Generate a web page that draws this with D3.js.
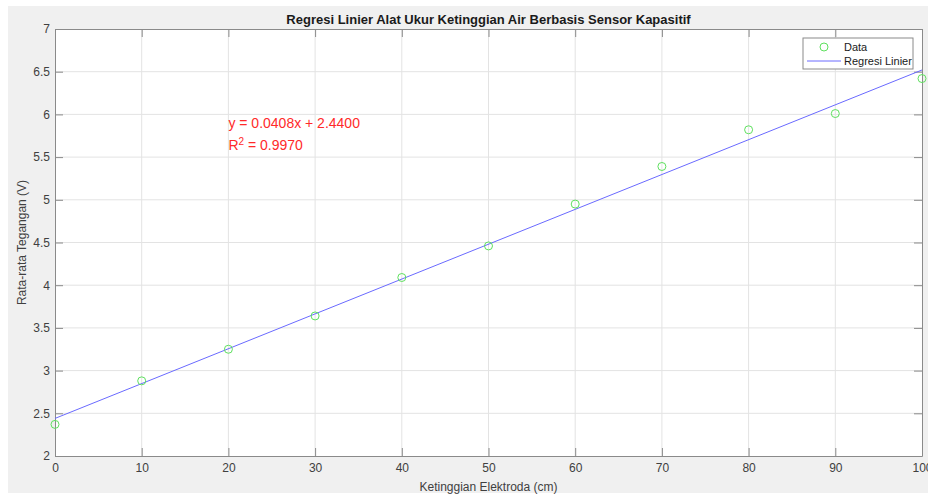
<!DOCTYPE html>
<html>
<head>
<meta charset="utf-8">
<script src="https://cdn.jsdelivr.net/npm/d3@7"></script>
<style>
  body { margin: 0; background: #fff; }
  text { font-family: "Liberation Sans", Arial, sans-serif; }
</style>
</head>
<body>
<div id="chart-area"></div>
<script>
// --- Data ---
var ketinggian = [0, 10, 20, 30, 40, 50, 60, 70, 80, 90, 100];
var tegangan = [2.37, 2.88, 3.25, 3.64, 4.09, 4.46, 4.95, 5.39, 5.82, 6.01, 6.42];
var xTicks = [0, 10, 20, 30, 40, 50, 60, 70, 80, 90, 100];
var yTicks = [2, 2.5, 3, 3.5, 4, 4.5, 5, 5.5, 6, 6.5, 7];
var slope = 0.0408;
var intercept = 2.44;
var rSquared = 0.9970;

// --- Setup the canvas ---
var W = 928, H = 494;
var margins = {top: 29, bottom: 38, left: 55, right: 6};
var width = W - margins.left - margins.right;
var height = H - margins.top - margins.bottom;

var svg = d3.select("#chart-area").append("svg")
    .attr("width", W)
    .attr("height", H);

// gray figure background
svg.append("rect")
    .attr("x", 8).attr("y", 6)
    .attr("width", W - 8).attr("height", H - 7)
    .attr("fill", "#f0f0f0");

var group = svg.append("g")
    .attr("transform", "translate(" + margins.left + ", " + margins.top + ")");

group.append("rect")
    .attr("width", width).attr("height", height)
    .attr("fill", "#fff");

// --- Scales ---
var xScale = d3.scaleLinear().domain([0, 100]).range([0, width]);
var yScale = d3.scaleLinear().domain([2, 7]).range([height, 0]);

// --- Grid ---
group.append("g").selectAll("line").data(xTicks.slice(1, -1)).enter().append("line")
    .attr("x1", function(d) { return xScale(d); })
    .attr("x2", function(d) { return xScale(d); })
    .attr("y1", 0).attr("y2", height)
    .attr("stroke", "#e3e3e3");
group.append("g").selectAll("line").data(yTicks.slice(1, -1)).enter().append("line")
    .attr("y1", function(d) { return yScale(d); })
    .attr("y2", function(d) { return yScale(d); })
    .attr("x1", 0).attr("x2", width)
    .attr("stroke", "#e3e3e3");

// --- Axes (ticks inside, box on) ---
var tickLen = 8;
var axisColor = "#8a8a8a";
var labelColor = "#404040";
var plain = function(d) { return String(d); };

var xAxis = d3.axisBottom(xScale).tickValues(xTicks).tickFormat(plain)
    .tickSizeInner(-tickLen).tickSizeOuter(0).tickPadding(7);
var xAxisGroup = group.append("g")
    .attr("transform", "translate(0, " + height + ")")
    .call(xAxis);
var xTop = d3.axisTop(xScale).tickValues(xTicks).tickSizeInner(-tickLen).tickSizeOuter(0).tickFormat("");
var xTopGroup = group.append("g").call(xTop);

var yAxis = d3.axisLeft(yScale).tickValues(yTicks).tickFormat(plain)
    .tickSizeInner(-tickLen).tickSizeOuter(0).tickPadding(5);
var yAxisGroup = group.append("g").call(yAxis);
var yRight = d3.axisRight(yScale).tickValues(yTicks).tickSizeInner(-tickLen).tickSizeOuter(0).tickFormat("");
var yRightGroup = group.append("g")
    .attr("transform", "translate(" + width + ", 0)")
    .call(yRight);

[xAxisGroup, xTopGroup, yAxisGroup, yRightGroup].forEach(function(g) {
    g.selectAll("path").attr("stroke", axisColor);
    g.selectAll("line").attr("stroke", axisColor);
    g.selectAll("text")
        .attr("fill", labelColor)
        .attr("font-size", "12px")
        .attr("font-family", "Liberation Sans, Arial, sans-serif");
});

// --- Labels ---
svg.append("text")
    .text("Regresi Linier Alat Ukur Ketinggian Air Berbasis Sensor Kapasitif")
    .attr("x", margins.left + width / 2)
    .attr("y", 24)
    .attr("text-anchor", "middle")
    .attr("font-size", "13px")
    .attr("font-weight", "bold")
    .attr("fill", "#1a1a1a");

svg.append("text")
    .text("Ketinggian Elektroda (cm)")
    .attr("x", margins.left + width / 2)
    .attr("y", 491)
    .attr("text-anchor", "middle")
    .attr("font-size", "12px")
    .attr("fill", labelColor);

svg.append("text")
    .text("Rata-rata Tegangan (V)")
    .attr("transform", "translate(26, " + (margins.top + height / 2) + ") rotate(-90)")
    .attr("text-anchor", "middle")
    .attr("font-size", "12px")
    .attr("fill", labelColor);

// --- Regression line ---
var plot = group.append("g");
plot.append("line")
    .attr("x1", xScale(0)).attr("y1", yScale(intercept))
    .attr("x2", xScale(100)).attr("y2", yScale(slope * 100 + intercept))
    .attr("stroke", "#6a6aff")
    .attr("stroke-width", 1);

// --- Data points ---
var data = ketinggian.map(function(d, i) { return {x: d, y: tegangan[i]}; });
plot.selectAll("circle").data(data).enter().append("circle")
    .attr("cx", function(d) { return xScale(d.x); })
    .attr("cy", function(d) { return yScale(d.y); })
    .attr("r", 4)
    .attr("fill", "none")
    .attr("stroke", "#5ee05e")
    .attr("stroke-width", 1);

// --- Equation text ---
var eq = group.append("text")
    .attr("x", xScale(20))
    .attr("y", yScale(5.9))
    .attr("dy", "0.35em")
    .attr("font-size", "14px")
    .attr("fill", "#ff2a2a")
    .text("y = " + slope.toFixed(4) + "x + " + intercept.toFixed(4));

var r2 = group.append("text")
    .attr("x", xScale(20))
    .attr("y", yScale(5.645))
    .attr("dy", "0.35em")
    .attr("font-size", "14px")
    .attr("fill", "#ff2a2a");
r2.append("tspan").text("R");
r2.append("tspan").attr("baseline-shift", "super").attr("font-size", "10px").text("2");
r2.append("tspan").text(" = " + rSquared.toFixed(4));

// --- Legend ---
var legend = svg.append("g").attr("transform", "translate(803, 38)");
legend.append("rect")
    .attr("width", 110).attr("height", 31)
    .attr("fill", "#fff")
    .attr("stroke", "#8a8a8a");
legend.append("circle")
    .attr("cx", 21).attr("cy", 9).attr("r", 4)
    .attr("fill", "none").attr("stroke", "#5ee05e");
legend.append("text")
    .attr("x", 41).attr("y", 9).attr("dy", "0.35em")
    .attr("font-size", "11px").attr("fill", "#1a1a1a")
    .text("Data");
legend.append("line")
    .attr("x1", 4).attr("x2", 38).attr("y1", 23).attr("y2", 23)
    .attr("stroke", "#6a6aff");
legend.append("text")
    .attr("x", 41).attr("y", 23).attr("dy", "0.35em")
    .attr("font-size", "11px").attr("fill", "#1a1a1a")
    .text("Regresi Linier");
</script>
</body>
</html>
